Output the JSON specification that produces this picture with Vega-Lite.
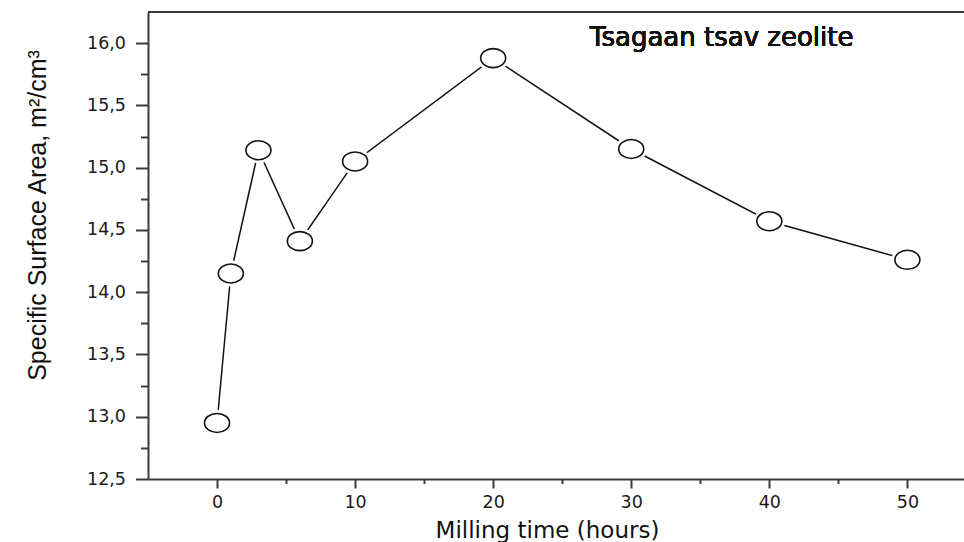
{
  "$schema": "https://vega.github.io/schema/vega-lite/v6.json",
  "width": 816,
  "height": 467,
  "autosize": {"type": "none"},
  "padding": {"left": 148, "top": 12, "right": 0, "bottom": 63},
  "background": "white",
  "config": {
    "view": {"stroke": null},
    "axis": {
      "grid": false,
      "domainColor": "#3a3a3a",
      "domainWidth": 2,
      "tickColor": "#3a3a3a",
      "tickWidth": 2,
      "labelFont": "DejaVu Sans",
      "labelFontSize": 17.5,
      "labelColor": "#1a1a1a",
      "titleColor": "#111111",
      "titleFontWeight": "normal"
    }
  },
  "data": {
    "values": [
      {"hours": 0, "ssa": 12.95},
      {"hours": 1, "ssa": 14.15},
      {"hours": 3, "ssa": 15.14},
      {"hours": 6, "ssa": 14.41},
      {"hours": 10, "ssa": 15.05},
      {"hours": 20, "ssa": 15.88},
      {"hours": 30, "ssa": 15.15},
      {"hours": 40, "ssa": 14.57},
      {"hours": 50, "ssa": 14.26}
    ]
  },
  "layer": [
    {
      "mark": {"type": "line", "color": "#111111", "strokeWidth": 1.5},
      "encoding": {
        "x": {
          "field": "hours",
          "type": "quantitative",
          "scale": {"domain": [-5, 54.1], "nice": false, "zero": false},
          "axis": {
            "values": [0, 10, 20, 30, 40, 50],
            "tickSize": 9,
            "labelPadding": 5,
            "title": "Milling time (hours)",
            "titleFont": "DejaVu Sans",
            "titleFontSize": 23,
            "titleX": 399,
            "titleY": 58,
            "titleAlign": "center",
            "titleBaseline": "alphabetic"
          }
        },
        "y": {
          "field": "ssa",
          "type": "quantitative",
          "scale": {"domain": [12.5, 16.25], "nice": false, "zero": false},
          "axis": {
            "orient": "left",
            "values": [12.5, 13, 13.5, 14, 14.5, 15, 15.5, 16],
            "tickSize": 12.5,
            "labelPadding": 10,
            "labelExpr": "replace(format(datum.value, '.1f'), '.', ',')",
            "title": "Specific Surface Area, m²/cm³",
            "titleFont": "Liberation Sans",
            "titleFontSize": 25,
            "titleAngle": -90,
            "titleX": -111,
            "titleY": 203,
            "titleAlign": "center",
            "titleBaseline": "middle"
          }
        }
      }
    },
    {
      "mark": {
        "type": "point",
        "shape": "M-1,0A1,0.76,0,1,0,1,0A1,0.76,0,1,0,-1,0Z",
        "size": 625,
        "filled": true,
        "fill": "white",
        "stroke": "white",
        "strokeWidth": 7,
        "opacity": 1
      },
      "encoding": {
        "x": {"field": "hours", "type": "quantitative", "axis": null},
        "y": {"field": "ssa", "type": "quantitative", "axis": null}
      }
    },
    {
      "mark": {
        "type": "point",
        "shape": "M-1,0A1,0.76,0,1,0,1,0A1,0.76,0,1,0,-1,0Z",
        "size": 625,
        "filled": true,
        "fill": "white",
        "stroke": "#111111",
        "strokeWidth": 1.6,
        "opacity": 1
      },
      "encoding": {
        "x": {"field": "hours", "type": "quantitative", "axis": null},
        "y": {"field": "ssa", "type": "quantitative", "axis": null}
      }
    },
    {
      "mark": {"type": "rule", "color": "#3a3a3a", "strokeWidth": 1.5},
      "encoding": {
        "y": {"datum": 16.25, "type": "quantitative", "axis": null}
      }
    },
    {
      "mark": {
        "type": "text",
        "text": "Tsagaan tsav zeolite",
        "font": "DejaVu Sans",
        "fontSize": 26,
        "align": "left",
        "baseline": "alphabetic",
        "color": "#111111"
      },
      "encoding": {
        "x": {"datum": 27.0, "type": "quantitative", "axis": null},
        "y": {"datum": 15.98, "type": "quantitative", "axis": null}
      }
    },
    {
      "mark": {"type": "point", "opacity": 0},
      "encoding": {
        "x": {
          "field": "hours",
          "type": "quantitative",
          "axis": {
            "orient": "bottom",
            "values": [5, 15, 25, 35, 45],
            "tickSize": 4.5,
            "labels": false,
            "domain": false,
            "title": null
          }
        },
        "y": {
          "field": "ssa",
          "type": "quantitative",
          "axis": {
            "orient": "left",
            "values": [12.75, 13.25, 13.75, 14.25, 14.75, 15.25, 15.75],
            "tickSize": 7.5,
            "labels": false,
            "domain": false,
            "title": null
          }
        }
      }
    }
  ],
  "resolve": {"axis": {"x": "independent", "y": "independent"}}
}
